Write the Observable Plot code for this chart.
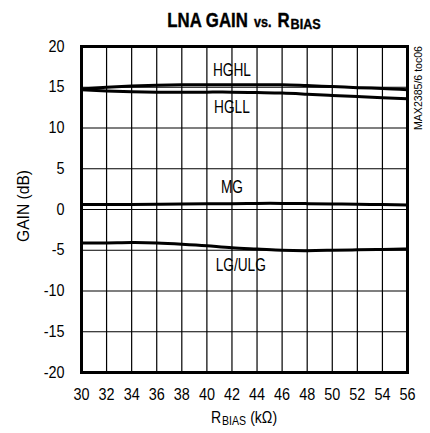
<!DOCTYPE html>
<html>
<head>
<meta charset="utf-8">
<script src="https://cdn.jsdelivr.net/npm/d3@7"></script>
<script src="https://cdn.jsdelivr.net/npm/@observablehq/plot@0.6"></script>
<style>
  body { margin: 0; background: #fff; }
</style>
</head>
<body>
<div id="chart"></div>
<script>
const rbias = [30, 32, 34, 36, 38, 40, 42, 44, 46, 48, 50, 52, 54, 56];
const hghl  = [14.8, 15.0, 15.15, 15.25, 15.3, 15.3, 15.3, 15.3, 15.3, 15.2, 15.1, 14.95, 14.85, 14.7];
const hgll  = [14.7, 14.55, 14.45, 14.4, 14.4, 14.4, 14.4, 14.35, 14.3, 14.15, 14.0, 13.85, 13.7, 13.6];
const mg    = [0.6, 0.6, 0.62, 0.65, 0.68, 0.7, 0.72, 0.75, 0.75, 0.72, 0.68, 0.63, 0.6, 0.55];
const lg    = [-4.1, -4.1, -4.05, -4.1, -4.25, -4.45, -4.7, -4.85, -5.0, -5.05, -5.0, -4.95, -4.9, -4.85];

const seriesNames = ["HGHL", "HGLL", "MG", "LG/ULG"];
const seriesValues = [hghl, hgll, mg, lg];
const labelX = [42, 42, 42, 42.7];
const labelY = [17.05, 12.55, 2.75, -6.85];

const xTicks = d3.range(30, 57, 2);
const yTicks = d3.range(-20, 21, 5);

const data = seriesNames.flatMap((name, i) => rbias.map((x, j) => ({series: name, x, y: seriesValues[i][j]})));
const labels = seriesNames.map((name, i) => ({name, x: labelX[i], y: labelY[i]}));

const font = '"Liberation Sans", Arial, sans-serif';

const chart = Plot.plot({
  width: 430,
  height: 433,
  marginTop: 46,
  marginBottom: 61,
  marginLeft: 81,
  marginRight: 23,
  style: {fontFamily: font, fontSize: "16px", background: "#fff", color: "#000"},
  x: {domain: [30, 56], ticks: xTicks, tickSize: 0, tickPadding: 16, label: null, tickFormat: d => String(d)},
  y: {domain: [-20, 20], ticks: yTicks, tickSize: 0, tickPadding: 17, label: null, tickFormat: d => String(d)},
  marks: [
    Plot.ruleX(xTicks, {stroke: "#000", strokeWidth: 1.2}),
    Plot.ruleY(yTicks, {stroke: "#000", strokeWidth: 1.2}),
    Plot.text(labels, {x: "x", y: "y", text: "name", fill: "#000", fontSize: 18, className: "inlabel"}),
    Plot.line(data, {x: "x", y: "y", z: "series", stroke: "#000", strokeWidth: 3, curve: "natural"}),
    Plot.frame({stroke: "#000", strokeWidth: 3})
  ]
});
document.getElementById("chart").appendChild(chart);

function compress(sel, factor) {
  sel.each(function() {
    const len = this.getComputedTextLength() * factor;
    this.setAttribute("textLength", len);
    this.setAttribute("lengthAdjust", "spacingAndGlyphs");
  });
}

const svg = d3.select(chart);
compress(svg.selectAll("g[aria-label='x-axis tick label'] text, g[aria-label='y-axis tick label'] text"), 0.9);

// inside labels: condensed, with white box interrupting gridlines
svg.selectAll(".inlabel text").each(function() {
  compress(d3.select(this), 0.76);
  const bb = this.getBBox();
  d3.select(this.parentNode).insert("rect", () => this)
    .attr("x", bb.x - 2).attr("y", bb.y + 2).attr("width", bb.width + 4).attr("height", bb.height - 4)
    .attr("fill", "#fff");
});

// run of text parts laid out side by side, each condensed by a horizontal scale, centred on cx
function textRun(parts, cx, baseline, factor, weight, strokeW) {
  const g = svg.append("g").attr("font-family", font).attr("font-weight", weight)
    .attr("fill", "#000").attr("text-anchor", "start");
  const nodes = parts.map(p => {
    const n = g.append("text").attr("x", 0).attr("y", 0).attr("font-size", p.size).text(p.text);
    if (strokeW) n.attr("stroke", "#000").attr("stroke-width", strokeW);
    const w = n.node().getComputedTextLength() * factor;
    return {n, w, dy: p.dy || 0, gap: (p.gap || 0)};
  });
  const total = d3.sum(nodes, d => d.w + d.gap);
  let x = cx - total / 2;
  nodes.forEach(d => {
    d.n.attr("transform", `translate(${x},${baseline + d.dy}) scale(${factor},1)`);
    x += d.w + d.gap;
  });
}

// title
textRun([
  {text: "LNA GAIN", size: 20, gap: 6},
  {text: "vs.", size: 15, gap: 6},
  {text: "R", size: 20, gap: 1},
  {text: "BIAS", size: 15, dy: 2}
], 244, 27, 0.84, "bold", 0.4);

// x axis label
textRun([
  {text: "R", size: 16, gap: 1},
  {text: "BIAS", size: 12, dy: 2, gap: 4},
  {text: "(kΩ)", size: 16}
], 244, 423, 0.88, "normal");

// y axis label
const yl = svg.append("text").attr("transform", "translate(29,206) rotate(-90)").attr("text-anchor", "middle")
  .attr("font-size", 17).attr("fill", "#000").attr("font-family", font).text("GAIN (dB)");
yl.attr("textLength", 72).attr("lengthAdjust", "spacingAndGlyphs");

// side code
const sc = svg.append("text").attr("transform", "translate(422,46) rotate(-90)").attr("text-anchor", "end")
  .attr("font-size", 11).attr("fill", "#000").attr("font-family", font).text("MAX2385/6 toc06");
sc.attr("textLength", 84).attr("lengthAdjust", "spacingAndGlyphs");
</script>
</body>
</html>
